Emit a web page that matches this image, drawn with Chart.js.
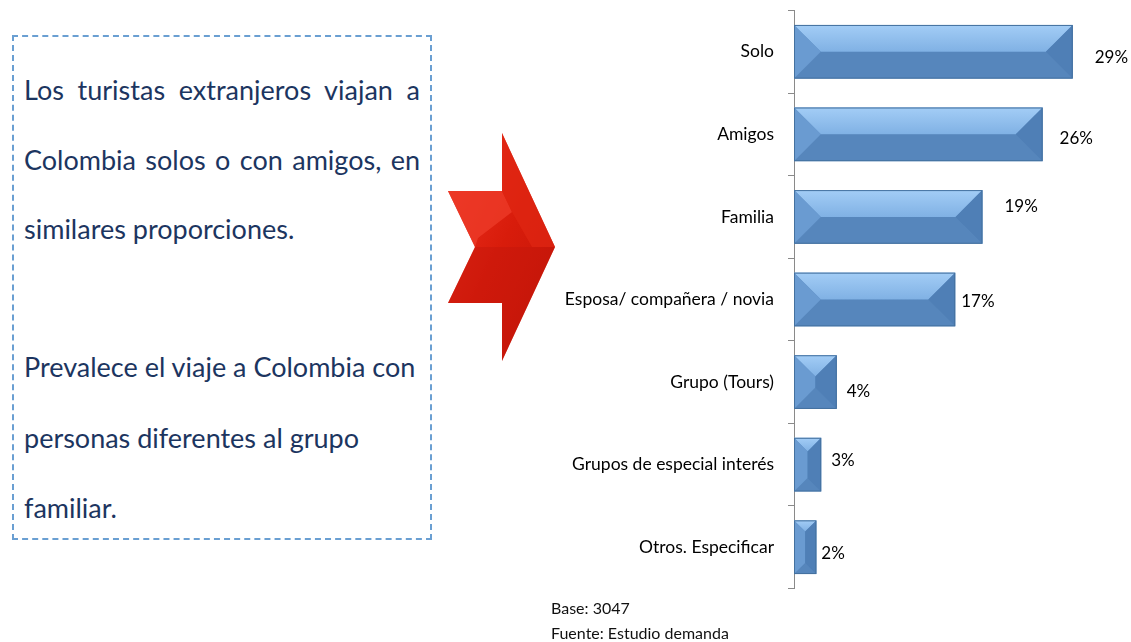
<!DOCTYPE html>
<html>
<head>
<meta charset="utf-8">
<script src="https://cdn.jsdelivr.net/npm/chart.js@4.4.1/dist/chart.umd.min.js"></script>
<style>
  body { margin: 0; width: 1131px; height: 642px; background: #fff; position: relative; overflow: hidden; font-family: Lato, "Open Sans", sans-serif; }
  #box { position: absolute; left: 12px; top: 35px; width: 416px; height: 501px; border: 2px dashed #6A9FD2; }
  .line { position: absolute; left: 10px; width: 396px; font-size: 27px; color: #1C3560; white-space: nowrap; line-height: 32px; }
  .just { text-align: justify; text-align-last: justify; white-space: normal; }
  #arrow { position: absolute; left: 0; top: 0; }
  #chartWrap { position: absolute; left: 540px; top: -14px; width: 591px; height: 627px; }
  .note { position: absolute; left: 551px; font-size: 16px; color: #111; }
</style>
</head>
<body>
<div id="box">
  <div class="line just" style="top:37px">Los turistas extranjeros viajan a</div>
  <div class="line just" style="top:107px">Colombia solos o con amigos, en</div>
  <div class="line" style="top:176px">similares proporciones.</div>
  <div class="line" style="top:314px">Prevalece el viaje a Colombia con</div>
  <div class="line" style="top:385px">personas diferentes al grupo</div>
  <div class="line" style="top:455px">familiar.</div>
</div>

<svg id="arrow" width="600" height="400">
  <defs>
    <linearGradient id="redGrad" x1="0" y1="0" x2="1" y2="1">
      <stop offset="0" stop-color="#EE3322"/>
      <stop offset="0.5" stop-color="#D81C0B"/>
      <stop offset="1" stop-color="#C01508"/>
    </linearGradient>
  </defs>
  <polygon points="502,133 555,247 502,361 502,303 448,303 475,247 448,191 502,191" fill="url(#redGrad)"/>
  <polygon points="448,191 502,191 512,212 478,238 475,247" fill="#EE3C2A" opacity="0.75"/>
  <polygon points="502,133 555,247 532,247 512,212 502,191" fill="#E02613" opacity="0.7"/>
  <polygon points="475,247 555,247 502,361 502,303 448,303" fill="#C4170A" opacity="0.45"/>
</svg>

<div id="chartWrap"><canvas id="chart"></canvas></div>
<div class="note" style="top:598px">Base: 3047</div>
<div class="note" style="top:623px">Fuente: Estudio demanda</div>

<script>
// Data
const categories = ['Solo', 'Amigos', 'Familia', 'Esposa/ compañera / novia', 'Grupo (Tours)', 'Grupos de especial interés', 'Otros. Especificar'];
const percentValues = [28.7, 25.6, 19.4, 16.6, 4.4, 2.8, 2.3];
const percentLabels = ['29%', '26%', '19%', '17%', '4%', '3%', '2%'];

// label nudges (px) to sit where the original put them
const labelDx = [22, 17, 22, 6, 10, 10, 5];
const labelDy = [6, 4, -10, 2, 9, -4, 6];

// Draw the bevelled look on each bar
const bevelBars = {
    id: 'bevelBars',
    afterDatasetsDraw(chart) {
        const c = chart.ctx;
        chart.getDatasetMeta(0).data.forEach((bar) => {
            const x0 = bar.base, x1 = bar.x;
            const y0 = bar.y - bar.height / 2, y1 = bar.y + bar.height / 2;
            const w = x1 - x0, h = y1 - y0;
            const b = Math.min(w, h) / 2;
            c.save();
            // bottom face
            c.fillStyle = '#5B8CC3';
            c.fillRect(x0, y0, w, h);
            // top face
            const g = c.createLinearGradient(0, y0, 0, y0 + b);
            g.addColorStop(0, '#A3CDF6');
            g.addColorStop(1, '#80B1E4');
            c.fillStyle = g;
            c.beginPath();
            c.moveTo(x0, y0); c.lineTo(x1, y0); c.lineTo(x1 - b, y0 + b); c.lineTo(x0 + b, y0 + b); c.closePath();
            c.fill();
            if (h - 2 * b > 0.5) {
                c.fillStyle = '#6E9FD5';
                c.fillRect(x0 + b, y0 + b, w - 2 * b, h - 2 * b);
            }
            // left bevel
            c.fillStyle = '#6A9BD1';
            c.beginPath();
            c.moveTo(x0, y0); c.lineTo(x0 + b, y0 + b); c.lineTo(x0 + b, y1 - b); c.lineTo(x0, y1); c.closePath();
            c.fill();
            // right bevel
            c.fillStyle = '#4F7FB6';
            c.beginPath();
            c.moveTo(x1, y0); c.lineTo(x1 - b, y0 + b); c.lineTo(x1 - b, y1 - b); c.lineTo(x1, y1); c.closePath();
            c.fill();
            c.fillStyle = 'rgba(60,100,150,0.15)';
            c.beginPath();
            c.moveTo(x0, y1); c.lineTo(x1, y1); c.lineTo(x1 - b, y1 - b); c.lineTo(x0 + b, y1 - b); c.closePath();
            c.fill();
            // outline
            c.strokeStyle = '#44719F';
            c.lineWidth = 1;
            c.strokeRect(x0 + 0.5, y0 + 0.5, w - 1, h - 1);
            c.restore();
        });
    }
};

// Percent labels next to bars
const valueLabels = {
    id: 'valueLabels',
    afterDatasetsDraw(chart) {
        const c = chart.ctx;
        c.save();
        c.font = '17px Lato, "Open Sans", sans-serif';
        c.fillStyle = '#000';
        c.textBaseline = 'middle';
        c.textAlign = 'left';
        chart.getDatasetMeta(0).data.forEach((bar, i) => {
            c.fillText(percentLabels[i], bar.x + labelDx[i], bar.y + labelDy[i]);
        });
        c.restore();
    }
};

const ctx = document.getElementById('chart').getContext('2d');
new Chart(ctx, {
    type: 'bar',
    data: {
        labels: categories,
        datasets: [{
            data: percentValues,
            backgroundColor: 'rgba(0,0,0,0)',
            borderWidth: 0,
            barPercentage: 0.65,
            categoryPercentage: 1.0
        }]
    },
    options: {
        indexAxis: 'y',
        responsive: true,
        maintainAspectRatio: false,
        animation: false,
        layout: { padding: { top: 10, bottom: 10, left: 0, right: 0 } },
        scales: {
            x: { display: false, min: 0, max: 34.7 },
            y: {
                afterFit(scale) { scale.width = 254; },
                grid: { drawOnChartArea: false, drawTicks: true, tickLength: 6, color: '#8A8A8A', offset: true },
                border: { display: true, color: '#8A8A8A', width: 1 },
                ticks: { color: '#000', padding: 14, font: { family: 'Lato, "Open Sans", sans-serif', size: 17.5 } }
            }
        },
        plugins: { legend: { display: false }, tooltip: { enabled: false } }
    },
    plugins: [bevelBars, valueLabels]
});
</script>
</body>
</html>
